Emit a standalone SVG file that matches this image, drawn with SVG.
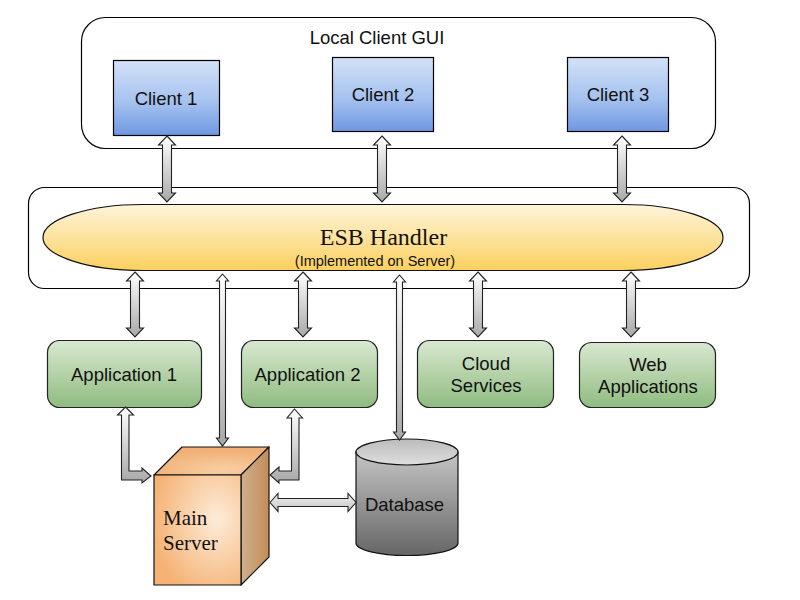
<svg xmlns="http://www.w3.org/2000/svg" width="800" height="600" viewBox="0 0 800 600">
<style>
text{font-family:"Liberation Sans",Arial,sans-serif;fill:#111;text-anchor:middle}
.s{font-family:"Liberation Serif","Times New Roman",serif;font-size:21px;text-anchor:start}
.t{font-size:18.500px}
.panel{fill:#fff;stroke:#000;stroke-width:1.2}
.client{fill:url(#blue);stroke:#000;stroke-width:1.2}
.app{fill:url(#green);stroke:#222;stroke-width:1.2}
.arrow{fill:url(#grey);stroke:#222;stroke-width:1.1;stroke-linejoin:miter}
.arrowh{fill:url(#greyh);stroke:#222;stroke-width:1.1}
.edge{stroke:#111;stroke-width:1.2;stroke-linejoin:round}
</style>
<defs>
<linearGradient id="blue" x1="0" y1="0" x2="0" y2="1"><stop offset="0" stop-color="#d3e1f7"/><stop offset="0.55" stop-color="#a6c2ef"/><stop offset="1" stop-color="#6f98e2"/></linearGradient>
<linearGradient id="green" x1="0" y1="0" x2="0" y2="1"><stop offset="0" stop-color="#d9e8d0"/><stop offset="1" stop-color="#8fbc80"/></linearGradient>
<linearGradient id="gold" x1="0" y1="0" x2="0" y2="1"><stop offset="0" stop-color="#fff5dc"/><stop offset="1" stop-color="#fbd05e"/></linearGradient>
<linearGradient id="grey" x1="0" y1="0" x2="0" y2="1"><stop offset="0" stop-color="#ffffff"/><stop offset="1" stop-color="#a8a8a8"/></linearGradient>
<linearGradient id="greyh" x1="0" y1="0" x2="0" y2="1"><stop offset="0" stop-color="#f2f2f2"/><stop offset="1" stop-color="#c4c4c4"/></linearGradient>
<linearGradient id="dbbody" x1="0" y1="0" x2="0" y2="1"><stop offset="0" stop-color="#c4c4c4"/><stop offset="1" stop-color="#666666"/></linearGradient>
<linearGradient id="dbtop" x1="0" y1="0" x2="0" y2="1"><stop offset="0" stop-color="#bcbcbc"/><stop offset="1" stop-color="#dedede"/></linearGradient>
<radialGradient id="front" cx="0.72" cy="0.4" r="0.75"><stop offset="0" stop-color="#fdecd9"/><stop offset="1" stop-color="#f5b274"/></radialGradient>
<linearGradient id="side" x1="0" y1="0" x2="1" y2="0"><stop offset="0" stop-color="#cdb08f"/><stop offset="1" stop-color="#c48c55"/></linearGradient>
<radialGradient id="topf" cx="0.6" cy="0.8" r="0.7"><stop offset="0" stop-color="#f8ceA4"/><stop offset="1" stop-color="#f1b075"/></radialGradient>
</defs>

<g id="panel-gui"><rect class="panel" x="81.500" y="17.500" width="634" height="131" rx="24"/><text x="377" y="44" style="font-size:18.500px">Local Client GUI</text></g>
<g id="panel-esb"><rect class="panel" x="28.500" y="187.500" width="721" height="101" rx="16"/></g>

<g id="client1"><rect class="client" x="113.500" y="60.500" width="106" height="75"/><text class="t" x="166" y="104.500">Client 1</text></g>
<g id="client2"><rect class="client" x="332.500" y="57.500" width="101" height="74"/><text class="t" x="383" y="101">Client 2</text></g>
<g id="client3"><rect class="client" x="567.500" y="57.500" width="101" height="74"/><text class="t" x="618" y="101">Client 3</text></g>

<g id="esb"><path d="M143,204.500H623A100,33 0 0 1 623,270.500H143A100,33 0 0 1 143,204.500Z" fill="url(#gold)" stroke="#111" stroke-width="1.200"/>
<text x="383.500" y="245" style="font-family:'Liberation Serif','Times New Roman',serif;font-size:24px">ESB Handler</text>
<text x="375" y="266" style="font-size:14.500px">(Implemented on Server)</text></g>

<g id="app1"><rect class="app" x="47.500" y="340.500" width="154" height="67" rx="12"/><text class="t" x="124" y="381">Application 1</text></g>
<g id="app2"><rect class="app" x="241.500" y="340.500" width="136" height="67" rx="12"/><text class="t" x="307.500" y="381">Application 2</text></g>
<g id="cloud"><rect class="app" x="417.500" y="340.500" width="136" height="67" rx="12"/><text class="t" x="486" y="370">Cloud</text><text class="t" x="486" y="392">Services</text></g>
<g id="web"><rect class="app" x="579.500" y="342.500" width="136" height="65" rx="12"/><text class="t" x="648" y="371">Web</text><text class="t" x="648" y="393">Applications</text></g>

<g id="server">
<polygon class="edge" points="154,475 182,447 269,447 241,475" fill="url(#topf)"/>
<polygon class="edge" points="241,475 269,447 269,557 241,585" fill="url(#side)"/>
<rect class="edge" x="154" y="475" width="87" height="110" fill="url(#front)"/>
<text class="s" x="163" y="525">Main</text>
<text class="s" x="163" y="550">Server</text>
</g>

<g id="database">
<path d="M356,452V543A51,12.500 0 0 0 458,543V452Z" fill="url(#dbbody)" stroke="#111" stroke-width="1.200"/>
<ellipse cx="407" cy="452" rx="51" ry="13" fill="url(#dbtop)" stroke="#111" stroke-width="1.200"/>
<text class="t" x="404.500" y="511">Database</text>
</g>

<g id="connectors">
<path class="arrow" d="M167,136l8.500,9h-4v48h4l-8.500,9l-8.500,-9h4v-48h-4z"/>
<path class="arrow" d="M382,136l8.500,9h-4v48h4l-8.500,9l-8.500,-9h4v-48h-4z"/>
<path class="arrow" d="M622,136l8.500,9h-4v48h4l-8.500,9l-8.500,-9h4v-48h-4z"/>
<path class="arrow" d="M135,272l8.500,9h-4v47h4l-8.500,9l-8.500,-9h4v-47h-4z"/>
<path class="arrow" d="M303,272l8.500,9h-4v47h4l-8.500,9l-8.500,-9h4v-47h-4z"/>
<path class="arrow" d="M478,272l8.500,9h-4v47h4l-8.500,9l-8.500,-9h4v-47h-4z"/>
<path class="arrow" d="M631,272l8.500,9h-4v47h4l-8.500,9l-8.500,-9h4v-47h-4z"/>
<path class="arrow" d="M222.500,274l6,7h-3v157h3l-6,8l-6,-8h3v-157h-3z"/>
<path class="arrow" d="M399.500,275l6,7h-3v150h3l-6,8l-6,-8h3v-150h-3z"/>
<path class="arrow" d="M125.500,407l8,8h-4.500v56h13v-3l9,8l-9,7v-3h-20.500v-65h-4z"/>
<path class="arrow" d="M294.500,409l8,9h-3.500v62h-20v3l-9,-8l9,-8v4h12.500v-53h-4.500z"/>
<path class="arrowh" d="M270,502.500l8,-9v5h70v-5l8,9l-8,9v-5h-70v5z"/>
</g>
</svg>
